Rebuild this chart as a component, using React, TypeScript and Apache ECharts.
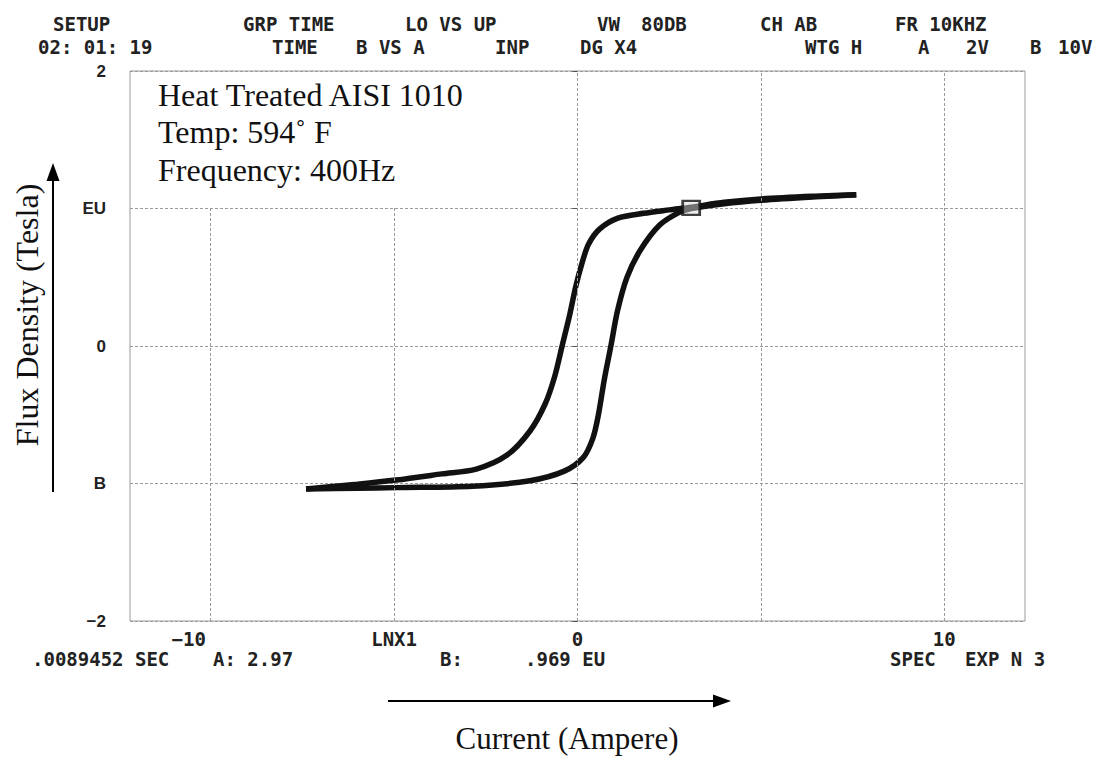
import React, { useEffect, useRef } from "react";
import * as echarts from "echarts";

// Descending branch (from positive saturation to negative saturation)
const descendingBranch: number[][] = [
  [7.6, 1.1], [6.5, 1.09], [5.0, 1.07], [4.0, 1.045], [3.1, 1.01], [2.5, 0.99],
  [1.8, 0.965], [1.1, 0.93], [0.6, 0.85], [0.3, 0.74], [0.12, 0.6], [-0.05, 0.43],
  [-0.21, 0.23], [-0.42, 0.0], [-0.62, -0.22], [-0.88, -0.42], [-1.3, -0.62],
  [-1.93, -0.795], [-2.76, -0.895], [-3.7, -0.93], [-4.95, -0.975], [-6.0, -1.005],
  [-7.4, -1.04],
];

// Ascending branch (from negative saturation back to positive saturation)
const ascendingBranch: number[][] = [
  [-7.4, -1.04], [-6.0, -1.035], [-4.95, -1.03], [-2.86, -1.02], [-1.3, -0.98],
  [-0.36, -0.91], [0.16, -0.81], [0.42, -0.67], [0.57, -0.5], [0.73, -0.245],
  [0.91, 0.0], [1.09, 0.255], [1.35, 0.5], [1.72, 0.7], [2.24, 0.88], [2.76, 0.97],
  [3.1, 1.0], [4.0, 1.035], [5.0, 1.06], [6.5, 1.085], [7.6, 1.1],
];

const cursorPoint: number[][] = [[3.1, 1.005]];

const xGridValues = [-10, -5, 0, 5, 10];
const xLabelValues = [-10, -5, 0, 10];
const xLabelTexts: Record<string, string> = { "-10": "−10", "-5": "LNX1", "0": "0", "10": "10" };
const yLabelTexts: Record<string, string> = { "2": "2", "1": "EU", "0": "0", "-1": "B", "-2": "−2" };

const headerRow1: [string, number][] = [
  ["SETUP", 53], ["GRP TIME", 243], ["LO VS UP", 405], ["VW", 597], ["80DB", 641],
  ["CH AB", 760], ["FR 10KHZ", 895],
];
const headerRow2: [string, number][] = [
  ["02: 01: 19", 38], ["TIME", 272], ["B VS A", 356], ["INP", 495], ["DG X4", 580],
  ["WTG H", 805], ["A", 918], ["2V", 966], ["B", 1030], ["10V", 1058],
];
const footerRow: [string, number][] = [
  [".0089452 SEC", 32], ["A: 2.97", 213], ["B:", 440], [".969 EU", 525],
  ["SPEC", 890], ["EXP N 3", 965],
];
const annotationLines = ["Heat Treated AISI 1010", "Temp: 594˚ F", "Frequency: 400Hz"];

const MONO = '"DejaVu Sans Mono", "Liberation Mono", monospace';
const SERIF = '"Liberation Serif", "DejaVu Serif", serif';

export default function App() {
  const ref = useRef<HTMLDivElement>(null);
  useEffect(() => {
    document.body.style.margin = "0";
    if (!ref.current) return;
    const chart = echarts.init(ref.current, undefined, { renderer: "svg" });

    const monoText = (items: [string, number][], y: number) =>
      items.map(([t, x]) => ({
        type: "text",
        x,
        y,
        z: 20,
        style: { text: t, font: `bold 19px ${MONO}`, fill: "#222", align: "left", verticalAlign: "middle" },
      }));

    const graphics: any[] = [
      ...monoText(headerRow1, 24),
      ...monoText(headerRow2, 47),
      ...monoText(footerRow, 659),
      {
        type: "rect",
        z: 10,
        shape: { x: 131.5, y: 72, width: 394, height: 135 },
        style: { fill: "#ffffff" },
      },
      ...annotationLines.map((t, i) => ({
        type: "text",
        x: 158,
        y: 94.5 + i * 37.5,
        z: 11,
        style: { text: t, font: `32px ${SERIF}`, fill: "#111", align: "left", verticalAlign: "middle" },
      })),
      {
        type: "text",
        x: 27,
        y: 315,
        rotation: Math.PI / 2,
        z: 11,
        style: { text: "Flux Density (Tesla)", font: `32px ${SERIF}`, fill: "#111", align: "center", verticalAlign: "middle" },
      },
      {
        type: "text",
        x: 567,
        y: 738,
        z: 11,
        style: { text: "Current (Ampere)", font: `31px ${SERIF}`, fill: "#111", align: "center", verticalAlign: "middle" },
      },
      {
        type: "line",
        z: 11,
        shape: { x1: 53, y1: 492, x2: 53, y2: 178 },
        style: { stroke: "#000", lineWidth: 2 },
      },
      {
        type: "polygon",
        z: 11,
        shape: { points: [[46.5, 181], [59.5, 181], [53, 163]] },
        style: { fill: "#000" },
      },
      {
        type: "line",
        z: 11,
        shape: { x1: 388, y1: 701, x2: 716, y2: 701 },
        style: { stroke: "#000", lineWidth: 2 },
      },
      {
        type: "polygon",
        z: 11,
        shape: { points: [[713, 694.5], [713, 707.5], [731, 701]] },
        style: { fill: "#000" },
      },
    ];

    chart.setOption({
      animation: false,
      backgroundColor: "#ffffff",
      grid: {
        left: 130,
        right: 85,
        top: 71,
        bottom: 140,
        show: true,
        borderColor: "#9a9a9a",
        borderWidth: 1,
      },
      xAxis: {
        type: "value",
        min: -12.2,
        max: 12.2,
        axisLine: { show: false },
        axisTick: { show: false },
        splitLine: { show: false },
        axisLabel: {
          customValues: xLabelValues,
          margin: 8,
          color: "#222",
          fontFamily: MONO,
          fontWeight: "bold",
          fontSize: 19,
          formatter: (v: number) => {
            const t = xLabelTexts[String(v)] ?? "";
            return v === -10 ? `{shift|${t}}` : t;
          },
          rich: {
            shift: { fontFamily: MONO, fontWeight: "bold", fontSize: 19, color: "#222", padding: [0, 44, 0, 0] },
          },
        },
      },
      yAxis: {
        type: "value",
        min: -2,
        max: 2,
        interval: 1,
        axisLine: { show: false },
        axisTick: { show: true, length: 5, lineStyle: { color: "#555" } },
        splitLine: { show: true, lineStyle: { color: "#9a9a9a", type: [3, 2], width: 1 } },
        axisLabel: {
          margin: 24,
          color: "#222",
          fontFamily: '"Liberation Sans", Arial, sans-serif',
          fontWeight: "bold",
          fontSize: 17,
          formatter: (v: number) => yLabelTexts[String(v)] ?? "",
        },
      },
      series: [
        {
          type: "line",
          name: "grid",
          data: [],
          z: 1,
          silent: true,
          markLine: {
            silent: true,
            symbol: ["none", "none"],
            label: { show: false },
            lineStyle: { color: "#9a9a9a", type: [3, 2], width: 1 },
            data: xGridValues.map((v) => ({ xAxis: v })),
          },
        },
        {
          type: "line",
          name: "descending",
          data: descendingBranch,
          showSymbol: false,
          symbol: "none",
          smooth: 0.3,
          z: 3,
          lineStyle: { color: "#111", width: 5.5 },
        },
        {
          type: "line",
          name: "ascending",
          data: ascendingBranch,
          showSymbol: false,
          symbol: "none",
          smooth: 0.3,
          z: 3,
          lineStyle: { color: "#111", width: 5.5 },
        },
        {
          type: "scatter",
          name: "cursor",
          data: cursorPoint,
          symbol: "rect",
          symbolSize: [17, 14],
          z: 4,
          itemStyle: { color: "rgba(220,220,220,0.6)", borderColor: "#111", borderWidth: 2.5 },
        },
      ],
      graphic: graphics,
    });

    return () => chart.dispose();
  }, []);

  return <div ref={ref} style={{ width: 1110, height: 761 }} />;
}
